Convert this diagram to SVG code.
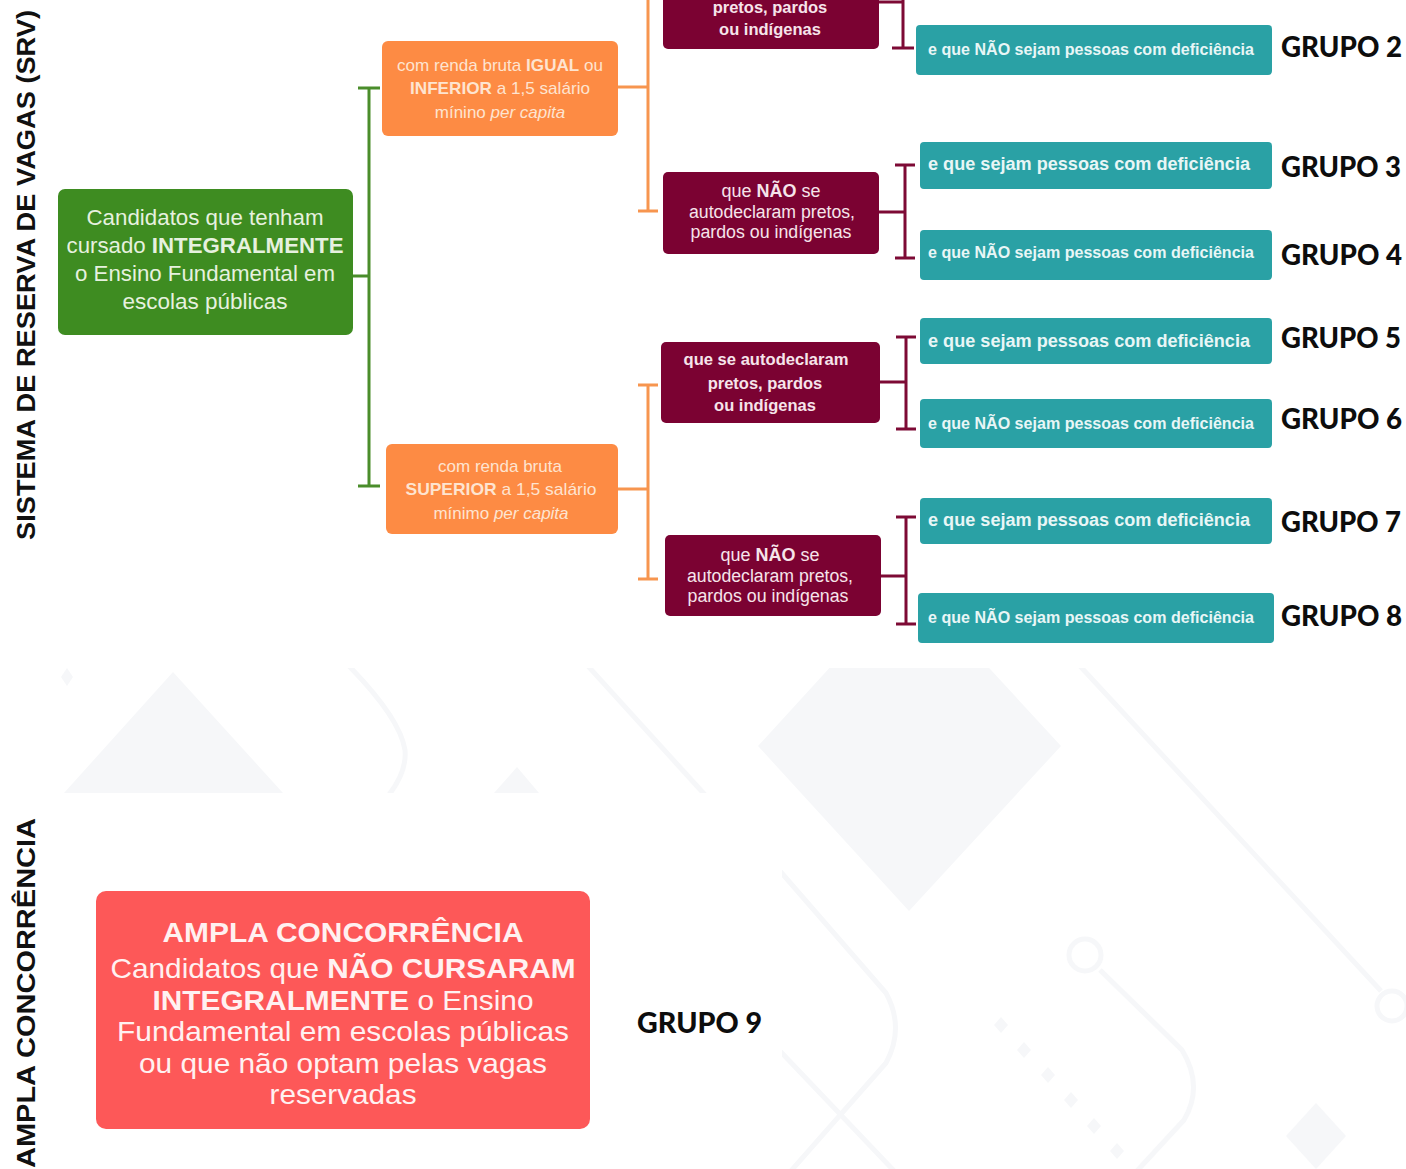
<svg xmlns="http://www.w3.org/2000/svg" width="1406" height="1169" viewBox="0 0 1406 1169">
<style>
text{font-family:'Liberation Sans',Arial,sans-serif}
.b{font-weight:bold}
.i{font-style:italic}
.grp{font-family:Lato,'Liberation Sans',sans-serif;font-weight:900;font-size:28px;fill:#0d0d0d}
.side{font-weight:bold;font-size:26px;fill:#111}
.green{fill:#3e8c21}
.orange{fill:#fd8b44}
.maroon{fill:#7b0232}
.teal{fill:#2aa1a5}
.red{fill:#fd5858}
.tg{fill:#e6f1df;font-size:22.5px;text-anchor:middle}
.to{fill:#fee4d0;font-size:17px;text-anchor:middle}
.tm{fill:#f6e4ea;font-size:18px;text-anchor:middle}
.tmb{fill:#f6e4ea;font-size:16.5px;font-weight:bold;text-anchor:middle}
.tt{fill:#e8f6f6;font-weight:bold}
.tr{fill:#fff1f1;font-size:28px;text-anchor:middle}
.bg{fill:#f6f7f9}
.bgl{fill:none;stroke:#f6f7f9;stroke-width:5}
.cg{stroke:#4a8d2b;stroke-width:3;fill:none}
.co{stroke:#f7954f;stroke-width:3;fill:none}
.cm{stroke:#7d0a35;stroke-width:3;fill:none}
</style>
<defs>
<clipPath id="bgclip"><path d="M0,668 H1406 V1169 H782 V793 H0 Z"/></clipPath>
</defs>
<rect width="1406" height="1169" fill="#ffffff"/>
<g id="background" clip-path="url(#bgclip)">
<polygon class="bg" points="67,668 73,677 67,686 61,677"/>
<polygon class="bg" points="173,672 283,793 64,793"/>
<path class="bgl" d="M348,665 Q400,718 405,750 Q407,772 388,796"/>
<polygon class="bg" points="517,767 539,793 494,793"/>
<path class="bgl" d="M587,665 L706,796"/>
<polygon class="bg" points="909,581 1061,746 909,911 758,746"/>
<path class="bgl" d="M1079,665 L1381,991"/>
<circle class="bgl" cx="1392" cy="1006" r="15" stroke-width="7"/>
<path class="bgl" d="M740,825 L886,993 Q905,1028 886,1063 L790,1172"/>
<path class="bgl" d="M760,1030 L898,1175"/>
<circle class="bgl" cx="1085" cy="955" r="16" stroke-width="8"/>
<path class="bgl" d="M1100,970 L1182,1050 Q1204,1086 1184,1120 L1136,1172"/>
<polygon class="bg" points="1001,1017 1008,1025 1001,1033 994,1025"/>
<polygon class="bg" points="1024,1042 1031,1050 1024,1058 1017,1050"/>
<polygon class="bg" points="1048,1067 1055,1075 1048,1083 1041,1075"/>
<polygon class="bg" points="1071,1092 1078,1100 1071,1108 1064,1100"/>
<polygon class="bg" points="1094,1118 1101,1126 1094,1134 1087,1126"/>
<polygon class="bg" points="1117,1143 1124,1151 1117,1159 1110,1151"/>
<polygon class="bg" points="1316,1103 1346,1136 1316,1169 1286,1136"/>
</g>

<g id="side-labels">
<text class="side" transform="translate(35,275) rotate(-90)" text-anchor="middle" textLength="530" lengthAdjust="spacingAndGlyphs">SISTEMA DE RESERVA DE VAGAS (SRV)</text>
<text class="side" transform="translate(35,1168) rotate(-90)" textLength="350" lengthAdjust="spacingAndGlyphs">AMPLA CONCORRÊNCIA</text>
</g>

<g id="connectors">
<path class="cg" d="M353,276 H369 M369,88 V486 M358,88 H380 M358,486 H380"/>
<path class="co" d="M618,87 H648 M648,-5 V211 M638,211 H658"/>
<path class="co" d="M618,489 H648 M648,385 V579 M638,385 H658 M638,579 H658"/>
<path class="cm" d="M879,2 H903 M903,-5 V48 M892,48 H914"/>
<path class="cm" d="M879,212 H905 M905,165 V258 M895,165 H915 M895,258 H915"/>
<path class="cm" d="M880,382 H906 M906,337 V429 M896,337 H916 M896,429 H916"/>
<path class="cm" d="M881,576 H906 M906,517 V624 M896,517 H916 M896,624 H916"/>
</g>

<g id="node-srv">
<rect class="green" x="58" y="189" width="295" height="146" rx="7"/>
<text class="tg" x="205" y="225" textLength="237" lengthAdjust="spacingAndGlyphs">Candidatos que tenham</text>
<text class="tg" x="205" y="253" textLength="277" lengthAdjust="spacingAndGlyphs">cursado <tspan class="b">INTEGRALMENTE</tspan></text>
<text class="tg" x="205" y="281" textLength="260" lengthAdjust="spacingAndGlyphs">o Ensino Fundamental em</text>
<text class="tg" x="205" y="309">escolas públicas</text>
</g>

<g id="node-renda-inferior">
<rect class="orange" x="382" y="41" width="236" height="95" rx="6"/>
<text class="to" x="500" y="71" textLength="206" lengthAdjust="spacingAndGlyphs">com renda bruta <tspan class="b">IGUAL</tspan> ou</text>
<text class="to" x="500" y="94" textLength="180" lengthAdjust="spacingAndGlyphs"><tspan class="b">INFERIOR</tspan> a 1,5 salário</text>
<text class="to" x="500" y="118">mínino <tspan class="i">per capita</tspan></text>
</g>

<g id="node-renda-superior">
<rect class="orange" x="386" y="444" width="232" height="90" rx="6"/>
<text class="to" x="500" y="472">com renda bruta</text>
<text class="to" x="501" y="495" textLength="191" lengthAdjust="spacingAndGlyphs"><tspan class="b">SUPERIOR</tspan> a 1,5 salário</text>
<text class="to" x="501" y="519">mínimo <tspan class="i">per capita</tspan></text>
</g>

<g id="node-ppi-1">
<rect class="maroon" x="663" y="-40" width="216" height="89" rx="5"/>
<text class="tmb" x="770" y="13">pretos, pardos</text>
<text class="tmb" x="770" y="35">ou indígenas</text>
</g>

<g id="node-nao-ppi-1">
<rect class="maroon" x="663" y="172" width="216" height="82" rx="5"/>
<text class="tm" x="771" y="197">que <tspan class="b">NÃO</tspan> se</text>
<text class="tm" x="772" y="218" textLength="166" lengthAdjust="spacingAndGlyphs">autodeclaram pretos,</text>
<text class="tm" x="771" y="238" textLength="161" lengthAdjust="spacingAndGlyphs">pardos ou indígenas</text>
</g>

<g id="node-ppi-2">
<rect class="maroon" x="661" y="342" width="219" height="81" rx="5"/>
<text class="tmb" x="766" y="365" textLength="165" lengthAdjust="spacingAndGlyphs">que se autodeclaram</text>
<text class="tmb" x="765" y="389">pretos, pardos</text>
<text class="tmb" x="765" y="411">ou indígenas</text>
</g>

<g id="node-nao-ppi-2">
<rect class="maroon" x="665" y="535" width="216" height="81" rx="5"/>
<text class="tm" x="770" y="561">que <tspan class="b">NÃO</tspan> se</text>
<text class="tm" x="770" y="582" textLength="166" lengthAdjust="spacingAndGlyphs">autodeclaram pretos,</text>
<text class="tm" x="768" y="602" textLength="161" lengthAdjust="spacingAndGlyphs">pardos ou indígenas</text>
</g>

<g id="node-g2">
<rect class="teal" x="916" y="25" width="356" height="50" rx="4"/>
<text class="tt" x="928" y="55" font-size="16.5" textLength="326" lengthAdjust="spacingAndGlyphs">e que NÃO sejam pessoas com deficiência</text>
<text class="grp" x="1281" y="57" textLength="121" lengthAdjust="spacingAndGlyphs">GRUPO 2</text>
</g>
<g id="node-g3">
<rect class="teal" x="920" y="142" width="352" height="47" rx="4"/>
<text class="tt" x="928" y="170" font-size="18" textLength="322" lengthAdjust="spacingAndGlyphs">e que sejam pessoas com deficiência</text>
<text class="grp" x="1281" y="177" textLength="120" lengthAdjust="spacingAndGlyphs">GRUPO 3</text>
</g>
<g id="node-g4">
<rect class="teal" x="920" y="230" width="352" height="50" rx="4"/>
<text class="tt" x="928" y="258" font-size="16.5" textLength="326" lengthAdjust="spacingAndGlyphs">e que NÃO sejam pessoas com deficiência</text>
<text class="grp" x="1281" y="265" textLength="121" lengthAdjust="spacingAndGlyphs">GRUPO 4</text>
</g>
<g id="node-g5">
<rect class="teal" x="920" y="318" width="352" height="46" rx="4"/>
<text class="tt" x="928" y="347" font-size="18" textLength="322" lengthAdjust="spacingAndGlyphs">e que sejam pessoas com deficiência</text>
<text class="grp" x="1281" y="348" textLength="120" lengthAdjust="spacingAndGlyphs">GRUPO 5</text>
</g>
<g id="node-g6">
<rect class="teal" x="920" y="399" width="352" height="49" rx="4"/>
<text class="tt" x="928" y="429" font-size="16.5" textLength="326" lengthAdjust="spacingAndGlyphs">e que NÃO sejam pessoas com deficiência</text>
<text class="grp" x="1281" y="429" textLength="121" lengthAdjust="spacingAndGlyphs">GRUPO 6</text>
</g>
<g id="node-g7">
<rect class="teal" x="920" y="498" width="352" height="46" rx="4"/>
<text class="tt" x="928" y="526" font-size="18" textLength="322" lengthAdjust="spacingAndGlyphs">e que sejam pessoas com deficiência</text>
<text class="grp" x="1281" y="532" textLength="120" lengthAdjust="spacingAndGlyphs">GRUPO 7</text>
</g>
<g id="node-g8">
<rect class="teal" x="918" y="593" width="356" height="50" rx="4"/>
<text class="tt" x="928" y="623" font-size="16.5" textLength="326" lengthAdjust="spacingAndGlyphs">e que NÃO sejam pessoas com deficiência</text>
<text class="grp" x="1281" y="626" textLength="121" lengthAdjust="spacingAndGlyphs">GRUPO 8</text>
</g>

<g id="node-ampla">
<rect class="red" x="96" y="891" width="494" height="238" rx="10"/>
<text class="tr b" x="343" y="942" textLength="361" lengthAdjust="spacingAndGlyphs">AMPLA CONCORRÊNCIA</text>
<text class="tr" x="343" y="978" textLength="465" lengthAdjust="spacingAndGlyphs">Candidatos que <tspan class="b">NÃO CURSARAM</tspan></text>
<text class="tr" x="343" y="1010" textLength="381" lengthAdjust="spacingAndGlyphs"><tspan class="b">INTEGRALMENTE</tspan> o Ensino</text>
<text class="tr" x="343" y="1041" textLength="452" lengthAdjust="spacingAndGlyphs">Fundamental em escolas públicas</text>
<text class="tr" x="343" y="1073" textLength="408" lengthAdjust="spacingAndGlyphs">ou que não optam pelas vagas</text>
<text class="tr" x="343" y="1104" textLength="147" lengthAdjust="spacingAndGlyphs">reservadas</text>
</g>
<g id="node-g9">
<text class="grp" x="637" y="1033" textLength="125" lengthAdjust="spacingAndGlyphs">GRUPO 9</text>
</g>
</svg>
